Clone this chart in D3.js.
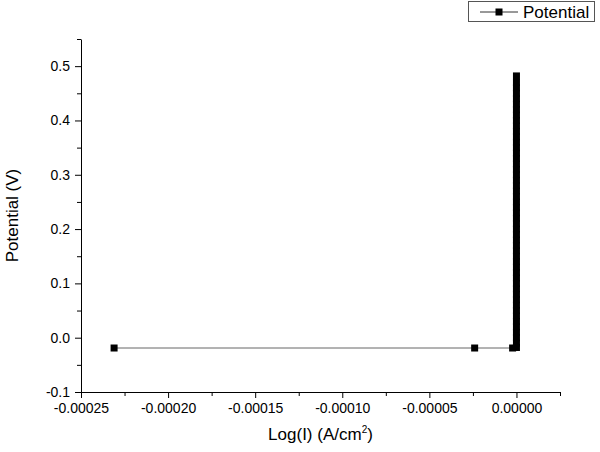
<!DOCTYPE html>
<html>
<head>
<meta charset="utf-8">
<script src="https://cdn.jsdelivr.net/npm/d3@7"></script>
<style>
	body { margin: 0; background: #fff; }
	text { font-family: "Liberation Sans", Arial, sans-serif; fill: #000; }
</style>
</head>
<body>
<div id="chart"></div>
<script>

//data
const seriesName = "Potential";
const currentX = [-0.000231, -0.000024, -0.0000022,
	0, 0, 0, 0, 0, 0, 0, 0, 0, 0,
	0, 0, 0, 0, 0, 0, 0, 0, 0, 0,
	0, 0, 0, 0, 0, 0, 0, 0, 0, 0,
	0, 0, 0, 0, 0, 0, 0, 0, 0, 0,
	0, 0, 0, 0, 0, 0, 0, 0, 0, 0, 0];
const potentialY = [-0.019, -0.019, -0.019,
	-0.018, -0.01, 0.0, 0.01, 0.02, 0.03, 0.04, 0.05, 0.06, 0.07,
	0.08, 0.09, 0.10, 0.11, 0.12, 0.13, 0.14, 0.15, 0.16, 0.17,
	0.18, 0.19, 0.20, 0.21, 0.22, 0.23, 0.24, 0.25, 0.26, 0.27,
	0.28, 0.29, 0.30, 0.31, 0.32, 0.33, 0.34, 0.35, 0.36, 0.37,
	0.38, 0.39, 0.40, 0.41, 0.42, 0.43, 0.44, 0.45, 0.46, 0.47, 0.482];
const xTicks = [-0.00025, -0.00020, -0.00015, -0.00010, -0.00005, 0];
const xMinorTicks = [-0.000225, -0.000175, -0.000125, -0.000075, -0.000025, 0.000025];
const yTicks = [-0.1, 0.0, 0.1, 0.2, 0.3, 0.4, 0.5];
const yMinorTicks = [-0.05, 0.05, 0.15, 0.25, 0.35, 0.45, 0.55];

const width = 600, height = 452;
const margin = {top: 39, right: 40, bottom: 60, left: 81};

let svg = d3.select("#chart")
	.append("svg")
	.attr("width", width)
	.attr("height", height);

let x = d3.scaleLinear()
	.domain([-0.00025, 0.000025])
	.range([margin.left, width - margin.right]);

let y = d3.scaleLinear()
	.domain([-0.1, 0.55])
	.range([height - margin.bottom, margin.top]);

//plain hyphen for the minus sign, like the original
function fmt(spec){
	let f = d3.format(spec);
	return (d) => f(d).replace("\u2212", "-");
}

//axes
svg.append("g")
	.attr("transform", "translate(0," + y(-0.1) + ")")
	.call(d3.axisBottom(x).tickValues(xTicks).tickFormat(fmt(".5f")).tickSize(6).tickPadding(5).tickSizeOuter(0));

svg.append("g")
	.attr("transform", "translate(0," + y(-0.1) + ")")
	.call(d3.axisBottom(x).tickValues(xMinorTicks).tickFormat("").tickSize(4).tickSizeOuter(0))
	.select(".domain").remove();

svg.append("g")
	.attr("transform", "translate(" + x(-0.00025) + ",0)")
	.call(d3.axisLeft(y).tickValues(yTicks).tickFormat(fmt(".1f")).tickSize(6).tickPadding(5).tickSizeOuter(0));

svg.append("g")
	.attr("transform", "translate(" + x(-0.00025) + ",0)")
	.call(d3.axisLeft(y).tickValues(yMinorTicks).tickFormat("").tickSize(4).tickSizeOuter(0))
	.select(".domain").remove();

svg.selectAll(".tick text")
	.style("font-size", "14px")
	.style("font-family", "'Liberation Sans', Arial, sans-serif");

//axis titles
let xTitle = svg.append("text")
	.attr("x", (x.range()[0] + x.range()[1]) / 2)
	.attr("y", 440)
	.attr("text-anchor", "middle")
	.style("font-size", "17px");
xTitle.append("tspan").text("Log(I) (A/cm");
xTitle.append("tspan").attr("dy", -7).style("font-size", "10px").text("2");
xTitle.append("tspan").attr("dy", 7).text(")");

svg.append("text")
	.attr("transform", "translate(18," + (margin.top + height - margin.bottom) / 2 + ") rotate(-90)")
	.attr("text-anchor", "middle")
	.style("font-size", "17px")
	.text("Potential (V)");

//line and markers
let points = potentialY.map((d, i) => ({x: currentX[i], y: d}));

let line = d3.line()
	.x((d) => x(d.x))
	.y((d) => y(d.y));

svg.append("path")
	.datum(points)
	.attr("d", line)
	.attr("fill", "none")
	.attr("stroke", "#666")
	.attr("stroke-width", 1);

svg.append("g")
	.selectAll("rect")
	.data(points)
	.enter().append("rect")
	.attr("x", (d) => x(d.x) - 3.5)
	.attr("y", (d) => y(d.y) - 3.5)
	.attr("width", 7)
	.attr("height", 7)
	.attr("fill", "#000");

//legend
let legend = svg.append("g");

legend.append("rect")
	.attr("x", 468.5)
	.attr("y", 1.5)
	.attr("width", 126)
	.attr("height", 20)
	.attr("fill", "#fff")
	.attr("stroke", "#555")
	.attr("stroke-width", 1);

legend.append("line")
	.attr("x1", 480)
	.attr("x2", 518)
	.attr("y1", 12)
	.attr("y2", 12)
	.attr("stroke", "#333")
	.attr("stroke-width", 1);

legend.append("rect")
	.attr("x", 495.5)
	.attr("y", 8.5)
	.attr("width", 7)
	.attr("height", 7)
	.attr("fill", "#000");

legend.append("text")
	.attr("x", 523)
	.attr("y", 18)
	.style("font-size", "17px")
	.text(seriesName);

</script>
</body>
</html>
